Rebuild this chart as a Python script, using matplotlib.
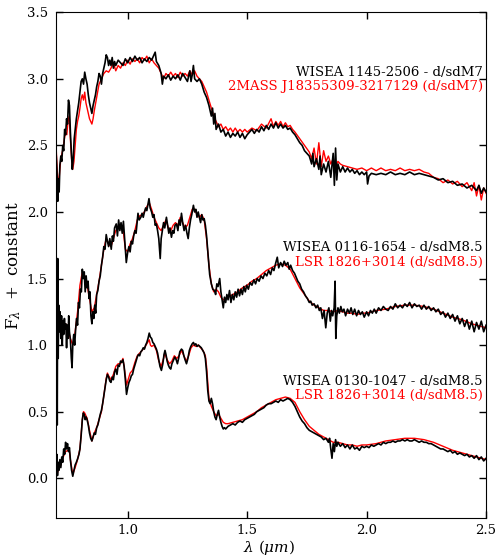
import numpy as np
import matplotlib
matplotlib.use("Agg")
import matplotlib.pyplot as plt

# Espectros (lambda en micras, flujo + constante)
wl_top_obj = [0.700, 0.704, 0.707, 0.710, 0.713, 0.716, 0.720, 0.724, 0.728, 0.732, 0.736, 0.740, 0.744, 0.748,
              0.752, 0.756, 0.760, 0.764, 0.768, 0.772, 0.776, 0.780, 0.785, 0.790, 0.795, 0.800, 0.805, 0.810,
              0.815, 0.820, 0.825, 0.830, 0.835, 0.840, 0.845, 0.850, 0.855, 0.860, 0.865, 0.870, 0.875, 0.880,
              0.885, 0.890, 0.895, 0.900, 0.905, 0.910, 0.915, 0.920, 0.925, 0.930, 0.935, 0.940, 0.945, 0.950,
              0.960, 0.970, 0.980, 0.990, 1.000, 1.010, 1.020, 1.030, 1.040, 1.050, 1.060, 1.070, 1.080, 1.090,
              1.100, 1.110, 1.115, 1.120, 1.130, 1.140, 1.145, 1.150, 1.160, 1.170, 1.180, 1.190, 1.200, 1.210,
              1.220, 1.230, 1.240, 1.250, 1.260, 1.265, 1.270, 1.275, 1.280, 1.290, 1.300, 1.310, 1.320, 1.330,
              1.340, 1.350, 1.355, 1.360, 1.365, 1.370, 1.380, 1.390, 1.400, 1.410, 1.420, 1.430, 1.440, 1.450,
              1.460, 1.470, 1.480, 1.490, 1.500, 1.510, 1.520, 1.530, 1.540, 1.550, 1.560, 1.570, 1.580, 1.590,
              1.600, 1.610, 1.620, 1.630, 1.640, 1.650, 1.660, 1.670, 1.680, 1.690, 1.700, 1.710, 1.720, 1.730,
              1.740, 1.750, 1.760, 1.770, 1.775, 1.780, 1.790, 1.800, 1.805, 1.810, 1.820, 1.830, 1.840, 1.850,
              1.860, 1.865, 1.870, 1.875, 1.880, 1.890, 1.900, 1.910, 1.920, 1.930, 1.940, 1.950, 1.960, 1.970,
              1.980, 1.990, 2.000, 2.004, 2.010, 2.020, 2.040, 2.060, 2.080, 2.100, 2.120, 2.140, 2.160, 2.180,
              2.200, 2.220, 2.240, 2.260, 2.280, 2.300, 2.320, 2.340, 2.360, 2.380, 2.400, 2.420, 2.440, 2.460,
              2.470, 2.480, 2.490, 2.500]
fl_top_obj = [2.45, 2.30, 2.08, 2.25, 2.15, 2.35, 2.42, 2.38, 2.50, 2.46, 2.62, 2.58, 2.70, 2.66,
              2.84, 2.80, 2.60, 2.45, 2.32, 2.40, 2.55, 2.62, 2.70, 2.76, 2.82, 2.90, 2.98, 3.00,
              2.96, 3.05, 3.00, 2.96, 2.88, 2.82, 2.78, 2.74, 2.80, 2.84, 2.88, 2.94, 2.98, 3.04,
              3.02, 2.96, 3.04, 3.08, 3.12, 3.18, 3.16, 3.10, 3.14, 3.10, 3.16, 3.08, 3.13, 3.10,
              3.14, 3.12, 3.10, 3.15, 3.12, 3.16, 3.13, 3.17, 3.14, 3.16, 3.12, 3.15, 3.13, 3.16,
              3.14, 3.18, 3.20, 3.13, 3.10, 3.04, 2.96, 3.02, 3.00, 3.03, 2.99, 3.02, 3.00, 3.03,
              2.99, 3.04, 3.01, 2.98, 3.06, 2.98, 3.03, 3.10, 3.00, 2.98, 3.00, 2.96, 2.90, 2.86,
              2.80, 2.72, 2.78, 2.66, 2.74, 2.62, 2.66, 2.60, 2.62, 2.57, 2.60, 2.56, 2.59, 2.57,
              2.60, 2.56, 2.59, 2.55, 2.58, 2.60, 2.62, 2.59, 2.62, 2.60, 2.64, 2.61, 2.65, 2.62,
              2.66, 2.63, 2.67, 2.63, 2.66, 2.63, 2.65, 2.62, 2.63, 2.60, 2.58, 2.55, 2.52, 2.50,
              2.46, 2.44, 2.42, 2.36, 2.44, 2.34, 2.40, 2.32, 2.42, 2.28, 2.36, 2.30, 2.38, 2.26,
              2.44, 2.20, 2.48, 2.24, 2.36, 2.30, 2.34, 2.30, 2.33, 2.30, 2.32, 2.29, 2.31, 2.28,
              2.30, 2.28, 2.30, 2.21, 2.27, 2.29, 2.28, 2.29, 2.28, 2.30, 2.28, 2.29, 2.28, 2.30,
              2.28, 2.29, 2.28, 2.27, 2.26, 2.24, 2.25, 2.22, 2.23, 2.20, 2.21, 2.18, 2.20, 2.16,
              2.20, 2.14, 2.18, 2.15]

wl_top_ref = [0.700, 0.705, 0.710, 0.715, 0.720, 0.725, 0.730, 0.735, 0.740, 0.745, 0.750, 0.755, 0.760, 0.765,
              0.770, 0.775, 0.780, 0.785, 0.790, 0.795, 0.800, 0.805, 0.810, 0.815, 0.820, 0.825, 0.830, 0.835,
              0.840, 0.845, 0.850, 0.855, 0.860, 0.870, 0.880, 0.890, 0.900, 0.910, 0.920, 0.930, 0.940, 0.950,
              0.960, 0.970, 0.980, 0.990, 1.000, 1.010, 1.020, 1.030, 1.040, 1.050, 1.060, 1.070, 1.080, 1.090,
              1.100, 1.110, 1.120, 1.130, 1.140, 1.150, 1.160, 1.170, 1.180, 1.190, 1.200, 1.210, 1.220, 1.230,
              1.240, 1.250, 1.260, 1.270, 1.280, 1.290, 1.300, 1.310, 1.320, 1.330, 1.340, 1.350, 1.360, 1.370,
              1.380, 1.390, 1.400, 1.410, 1.420, 1.430, 1.440, 1.450, 1.460, 1.470, 1.480, 1.490, 1.500, 1.520,
              1.540, 1.560, 1.580, 1.600, 1.610, 1.620, 1.630, 1.640, 1.650, 1.660, 1.670, 1.680, 1.690, 1.700,
              1.720, 1.740, 1.760, 1.770, 1.780, 1.790, 1.800, 1.810, 1.820, 1.830, 1.840, 1.850, 1.860, 1.870,
              1.880, 1.890, 1.900, 1.920, 1.940, 1.960, 1.980, 2.000, 2.020, 2.040, 2.060, 2.080, 2.100, 2.120,
              2.140, 2.160, 2.180, 2.200, 2.220, 2.240, 2.260, 2.280, 2.300, 2.320, 2.340, 2.360, 2.380, 2.400,
              2.420, 2.440, 2.450, 2.460, 2.470, 2.480, 2.490, 2.500]
fl_top_ref = [2.50, 2.30, 2.18, 2.30, 2.40, 2.44, 2.48, 2.55, 2.60, 2.58, 2.68, 2.72, 2.55, 2.40,
              2.32, 2.38, 2.50, 2.62, 2.68, 2.72, 2.78, 2.85, 2.88, 2.84, 2.90, 2.82, 2.78, 2.74,
              2.70, 2.68, 2.66, 2.70, 2.76, 2.86, 2.96, 3.00, 3.04, 3.06, 3.05, 3.08, 3.12, 3.06,
              3.10, 3.08, 3.12, 3.10, 3.14, 3.11, 3.15, 3.13, 3.15, 3.12, 3.16, 3.14, 3.17, 3.12,
              3.15, 3.12, 3.10, 3.08, 3.04, 3.00, 3.04, 3.02, 3.05, 3.02, 3.04, 3.01, 3.05, 3.02,
              3.04, 3.02, 3.06, 3.03, 3.06, 3.02, 3.00, 2.98, 2.94, 2.90, 2.84, 2.78, 2.72, 2.68,
              2.64, 2.66, 2.62, 2.64, 2.61, 2.63, 2.60, 2.63, 2.60, 2.62, 2.60, 2.62, 2.60, 2.63,
              2.61, 2.66, 2.63, 2.70, 2.64, 2.68, 2.65, 2.68, 2.64, 2.67, 2.64, 2.65, 2.62, 2.60,
              2.55, 2.50, 2.45, 2.40, 2.48, 2.36, 2.52, 2.34, 2.46, 2.38, 2.42, 2.36, 2.40, 2.34,
              2.38, 2.36, 2.35, 2.34, 2.33, 2.32, 2.33, 2.31, 2.33, 2.31, 2.33, 2.31, 2.32, 2.31,
              2.33, 2.31, 2.32, 2.31, 2.32, 2.30, 2.29, 2.26, 2.25, 2.22, 2.24, 2.21, 2.23, 2.19,
              2.22, 2.16, 2.22, 2.12, 2.20, 2.09, 2.18, 2.14]

wl_mid_obj = [0.700, 0.703, 0.705, 0.707, 0.709, 0.711, 0.714, 0.717, 0.720, 0.723, 0.726, 0.729, 0.732, 0.735,
              0.738, 0.741, 0.744, 0.747, 0.750, 0.753, 0.756, 0.760, 0.764, 0.767, 0.770, 0.774, 0.778, 0.782,
              0.786, 0.790, 0.794, 0.798, 0.802, 0.806, 0.810, 0.814, 0.818, 0.822, 0.826, 0.830, 0.834, 0.838,
              0.842, 0.846, 0.850, 0.854, 0.858, 0.862, 0.866, 0.870, 0.875, 0.880, 0.885, 0.890, 0.895, 0.900,
              0.905, 0.910, 0.915, 0.920, 0.925, 0.931, 0.936, 0.940, 0.945, 0.952, 0.957, 0.962, 0.967, 0.972,
              0.977, 0.982, 0.987, 0.994, 1.000, 1.005, 1.010, 1.015, 1.020, 1.025, 1.030, 1.035, 1.043, 1.048,
              1.055, 1.060, 1.065, 1.070, 1.075, 1.080, 1.085, 1.089, 1.094, 1.100, 1.105, 1.110, 1.115, 1.120,
              1.125, 1.130, 1.136, 1.140, 1.145, 1.150, 1.155, 1.162, 1.167, 1.172, 1.177, 1.183, 1.188, 1.193,
              1.198, 1.204, 1.210, 1.215, 1.220, 1.225, 1.230, 1.236, 1.242, 1.248, 1.253, 1.258, 1.263, 1.268,
              1.275, 1.280, 1.285, 1.290, 1.295, 1.300, 1.305, 1.310, 1.315, 1.320, 1.325, 1.330, 1.337, 1.343,
              1.350, 1.356, 1.363, 1.368, 1.373, 1.378, 1.385, 1.390, 1.395, 1.400, 1.405, 1.410, 1.415, 1.420,
              1.426, 1.432, 1.438, 1.444, 1.450, 1.456, 1.462, 1.468, 1.474, 1.480, 1.486, 1.492, 1.498, 1.505,
              1.512, 1.520, 1.528, 1.535, 1.542, 1.550, 1.558, 1.566, 1.574, 1.582, 1.590, 1.598, 1.605, 1.612,
              1.620, 1.626, 1.632, 1.640, 1.648, 1.655, 1.662, 1.670, 1.676, 1.682, 1.690, 1.698, 1.705, 1.712,
              1.720, 1.728, 1.736, 1.744, 1.752, 1.760, 1.766, 1.772, 1.780, 1.788, 1.795, 1.802, 1.808, 1.815,
              1.822, 1.829, 1.835, 1.842, 1.848, 1.853, 1.858, 1.864, 1.868, 1.871, 1.875, 1.880, 1.886, 1.892,
              1.898, 1.905, 1.912, 1.920, 1.928, 1.935, 1.942, 1.950, 1.958, 1.966, 1.974, 1.982, 1.990, 2.000,
              2.008, 2.016, 2.024, 2.032, 2.040, 2.050, 2.060, 2.070, 2.080, 2.090, 2.100, 2.110, 2.120, 2.130,
              2.140, 2.150, 2.160, 2.170, 2.180, 2.190, 2.200, 2.210, 2.220, 2.230, 2.240, 2.250, 2.260, 2.270,
              2.280, 2.290, 2.300, 2.310, 2.320, 2.330, 2.340, 2.350, 2.360, 2.370, 2.380, 2.390, 2.400, 2.410,
              2.420, 2.430, 2.440, 2.450, 2.460, 2.470, 2.480, 2.490, 2.500]
fl_mid_obj = [1.20, 1.55, 0.40, 1.65, 0.90, 1.30, 1.10, 1.25, 1.05, 1.22, 1.00, 1.18, 1.08, 1.20,
              1.12, 1.16, 0.98, 1.15, 1.05, 1.22, 1.10, 1.04, 0.90, 0.83, 1.00, 1.08, 1.00, 1.12,
              1.20, 1.15, 1.32, 1.28, 1.42, 1.40, 1.57, 1.50, 1.55, 1.40, 1.52, 1.43, 1.48, 1.35,
              1.40, 1.22, 1.16, 1.25, 1.20, 1.30, 1.24, 1.38, 1.41, 1.48, 1.52, 1.60, 1.66, 1.74,
              1.72, 1.83, 1.78, 1.74, 1.80, 1.72, 1.82, 1.78, 1.88, 1.91, 1.82, 1.94, 1.86, 1.92,
              1.84, 1.93, 1.80, 1.62, 1.70, 1.74, 1.70, 1.78, 1.76, 1.82, 1.86, 1.84, 1.99, 1.94,
              1.96, 1.99, 1.96, 2.00, 2.03, 2.01, 2.06, 2.10, 2.03, 2.00, 1.96, 1.98, 1.90, 1.91,
              1.86, 1.80, 1.65, 1.80, 1.86, 1.92, 1.88, 1.96, 1.90, 1.84, 1.88, 1.81, 1.86, 1.84,
              1.90, 1.91, 1.86, 1.94, 1.90, 1.99, 1.92, 1.86, 1.90, 1.84, 1.80, 1.88, 1.94, 1.98,
              2.05, 2.00, 2.02, 1.96, 2.00, 1.96, 1.92, 1.98, 1.94, 1.95, 1.90, 1.82, 1.66, 1.53,
              1.46, 1.42, 1.41, 1.38, 1.46, 1.44, 1.50, 1.40, 1.34, 1.28, 1.36, 1.32, 1.38, 1.34,
              1.41, 1.32, 1.38, 1.34, 1.40, 1.36, 1.42, 1.37, 1.42, 1.38, 1.44, 1.40, 1.45, 1.42,
              1.47, 1.45, 1.49, 1.46, 1.50, 1.48, 1.52, 1.50, 1.54, 1.52, 1.56, 1.53, 1.58, 1.56,
              1.62, 1.66, 1.58, 1.62, 1.59, 1.63, 1.60, 1.62, 1.57, 1.60, 1.56, 1.54, 1.51, 1.48,
              1.46, 1.42, 1.40, 1.37, 1.35, 1.32, 1.33, 1.30, 1.31, 1.28, 1.30, 1.26, 1.28, 1.20,
              1.26, 1.13, 1.24, 1.28, 1.18, 1.26, 1.22, 1.28, 1.48, 1.05, 1.22, 1.28, 1.24, 1.29,
              1.25, 1.27, 1.22, 1.27, 1.24, 1.28, 1.23, 1.27, 1.22, 1.26, 1.23, 1.25, 1.21, 1.25,
              1.22, 1.26, 1.24, 1.27, 1.24, 1.28, 1.26, 1.29, 1.27, 1.26, 1.29, 1.27, 1.31, 1.28,
              1.30, 1.28, 1.31, 1.29, 1.32, 1.28, 1.31, 1.29, 1.30, 1.27, 1.30, 1.27, 1.29, 1.26,
              1.28, 1.25, 1.27, 1.23, 1.25, 1.21, 1.24, 1.20, 1.23, 1.18, 1.22, 1.16, 1.20, 1.14,
              1.19, 1.12, 1.18, 1.10, 1.17, 1.12, 1.18, 1.10, 1.15]

wl_mid_ref = [0.700, 0.710, 0.720, 0.730, 0.740, 0.750, 0.760, 0.770, 0.780, 0.790, 0.800, 0.810, 0.820, 0.830,
              0.840, 0.850, 0.860, 0.870, 0.880, 0.890, 0.900, 0.910, 0.920, 0.930, 0.940, 0.950, 0.960, 0.970,
              0.980, 0.990, 1.000, 1.010, 1.020, 1.030, 1.040, 1.050, 1.060, 1.070, 1.080, 1.090, 1.100, 1.110,
              1.120, 1.130, 1.140, 1.150, 1.160, 1.170, 1.180, 1.190, 1.200, 1.210, 1.220, 1.230, 1.240, 1.250,
              1.260, 1.270, 1.280, 1.290, 1.300, 1.310, 1.320, 1.330, 1.340, 1.350, 1.360, 1.370, 1.380, 1.390,
              1.400, 1.420, 1.440, 1.460, 1.480, 1.500, 1.520, 1.540, 1.560, 1.580, 1.600, 1.620, 1.640, 1.660,
              1.680, 1.700, 1.720, 1.740, 1.760, 1.780, 1.800, 1.820, 1.840, 1.860, 1.880, 1.900, 1.920, 1.940,
              1.960, 1.980, 2.000, 2.040, 2.080, 2.120, 2.160, 2.200, 2.240, 2.280, 2.320, 2.360, 2.400, 2.440,
              2.480, 2.500]
fl_mid_ref = [1.20, 1.10, 1.15, 1.12, 1.16, 1.12, 1.05, 1.00, 1.10, 1.25, 1.45, 1.55, 1.52, 1.45,
              1.35, 1.25, 1.28, 1.38, 1.48, 1.60, 1.72, 1.80, 1.76, 1.74, 1.80, 1.86, 1.88, 1.90,
              1.88, 1.72, 1.70, 1.76, 1.80, 1.86, 1.94, 1.97, 1.98, 2.00, 2.04, 2.07, 2.02, 1.96,
              1.92, 1.88, 1.86, 1.90, 1.94, 1.88, 1.86, 1.90, 1.92, 1.90, 1.96, 1.92, 1.88, 1.90,
              1.96, 2.02, 2.02, 1.98, 1.96, 1.98, 1.94, 1.80, 1.60, 1.46, 1.40, 1.42, 1.40, 1.36,
              1.34, 1.36, 1.38, 1.40, 1.43, 1.45, 1.48, 1.50, 1.53, 1.56, 1.58, 1.60, 1.61, 1.60,
              1.57, 1.50, 1.43, 1.38, 1.33, 1.30, 1.28, 1.26, 1.26, 1.25, 1.26, 1.25, 1.24, 1.24,
              1.23, 1.24, 1.24, 1.26, 1.27, 1.29, 1.30, 1.30, 1.29, 1.27, 1.24, 1.21, 1.19, 1.16,
              1.14, 1.13]

wl_bot_obj = [0.700, 0.703, 0.706, 0.709, 0.712, 0.716, 0.720, 0.724, 0.728, 0.732, 0.736, 0.740, 0.744, 0.748,
              0.752, 0.756, 0.760, 0.765, 0.770, 0.775, 0.780, 0.785, 0.791, 0.796, 0.800, 0.805, 0.810, 0.814,
              0.818, 0.822, 0.826, 0.830, 0.835, 0.840, 0.845, 0.850, 0.855, 0.860, 0.865, 0.870, 0.875, 0.880,
              0.885, 0.890, 0.895, 0.900, 0.905, 0.910, 0.915, 0.920, 0.925, 0.930, 0.935, 0.940, 0.945, 0.950,
              0.955, 0.960, 0.965, 0.970, 0.975, 0.980, 0.985, 0.990, 0.995, 1.000, 1.005, 1.010, 1.015, 1.020,
              1.025, 1.030, 1.035, 1.040, 1.045, 1.050, 1.055, 1.060, 1.065, 1.070, 1.075, 1.080, 1.085, 1.090,
              1.095, 1.100, 1.105, 1.110, 1.115, 1.120, 1.125, 1.130, 1.135, 1.141, 1.147, 1.152, 1.156, 1.160,
              1.165, 1.170, 1.175, 1.180, 1.185, 1.190, 1.197, 1.203, 1.208, 1.213, 1.218, 1.225, 1.230, 1.235,
              1.240, 1.246, 1.252, 1.258, 1.264, 1.270, 1.275, 1.280, 1.285, 1.290, 1.296, 1.302, 1.308, 1.314,
              1.320, 1.325, 1.330, 1.335, 1.340, 1.345, 1.350, 1.355, 1.360, 1.365, 1.370, 1.375, 1.380, 1.385,
              1.390, 1.395, 1.400, 1.405, 1.410, 1.415, 1.420, 1.430, 1.440, 1.450, 1.460, 1.470, 1.480, 1.490,
              1.500, 1.510, 1.520, 1.530, 1.540, 1.550, 1.560, 1.570, 1.580, 1.590, 1.600, 1.610, 1.620, 1.630,
              1.640, 1.650, 1.660, 1.670, 1.680, 1.690, 1.700, 1.710, 1.720, 1.730, 1.740, 1.750, 1.760, 1.770,
              1.780, 1.790, 1.800, 1.810, 1.820, 1.830, 1.840, 1.845, 1.850, 1.855, 1.860, 1.865, 1.870, 1.875,
              1.880, 1.890, 1.900, 1.910, 1.920, 1.930, 1.940, 1.950, 1.960, 1.970, 1.980, 1.990, 2.000, 2.010,
              2.020, 2.030, 2.040, 2.050, 2.060, 2.070, 2.080, 2.090, 2.100, 2.110, 2.120, 2.130, 2.140, 2.150,
              2.160, 2.170, 2.180, 2.190, 2.200, 2.210, 2.220, 2.230, 2.240, 2.250, 2.260, 2.270, 2.280, 2.290,
              2.300, 2.310, 2.320, 2.330, 2.340, 2.350, 2.360, 2.370, 2.380, 2.390, 2.400, 2.410, 2.420, 2.430,
              2.440, 2.450, 2.460, 2.470, 2.480, 2.490, 2.500]
fl_bot_obj = [0.05, 0.18, 0.02, 0.12, 0.06, 0.14, 0.08, 0.16, 0.12, 0.22, 0.18, 0.27, 0.22, 0.26,
              0.20, 0.23, 0.14, 0.06, 0.015, 0.06, 0.10, 0.12, 0.15, 0.18, 0.22, 0.32, 0.44, 0.49,
              0.48, 0.44, 0.46, 0.44, 0.40, 0.34, 0.30, 0.28, 0.31, 0.34, 0.33, 0.38, 0.40, 0.44,
              0.48, 0.51, 0.56, 0.62, 0.68, 0.74, 0.78, 0.76, 0.73, 0.72, 0.76, 0.74, 0.80, 0.82,
              0.78, 0.85, 0.84, 0.88, 0.87, 0.89, 0.84, 0.74, 0.63, 0.68, 0.72, 0.74, 0.77, 0.78,
              0.82, 0.85, 0.88, 0.91, 0.93, 0.92, 0.95, 0.96, 0.98, 0.97, 1.00, 1.02, 1.05, 1.09,
              1.06, 1.05, 1.02, 1.01, 0.99, 0.97, 0.94, 0.89, 0.84, 0.81, 0.86, 0.93, 0.96, 0.93,
              0.88, 0.85, 0.83, 0.82, 0.86, 0.88, 0.91, 0.89, 0.86, 0.90, 0.95, 0.97, 0.96, 0.92,
              0.89, 0.86, 0.90, 0.96, 0.99, 1.01, 1.02, 1.00, 1.01, 0.99, 1.00, 0.99, 0.98, 0.96,
              0.94, 0.90, 0.80, 0.66, 0.58, 0.56, 0.60, 0.56, 0.50, 0.46, 0.44, 0.48, 0.51, 0.46,
              0.42, 0.39, 0.37, 0.38, 0.37, 0.38, 0.39, 0.40, 0.41, 0.40, 0.42, 0.43, 0.42, 0.44,
              0.45, 0.46, 0.47, 0.48, 0.50, 0.51, 0.52, 0.53, 0.55, 0.56, 0.56, 0.57, 0.58, 0.57,
              0.59, 0.58, 0.59, 0.60, 0.59, 0.57, 0.54, 0.50, 0.46, 0.43, 0.41, 0.38, 0.36, 0.35,
              0.34, 0.33, 0.32, 0.31, 0.29, 0.30, 0.27, 0.30, 0.22, 0.15, 0.26, 0.20, 0.29, 0.24,
              0.27, 0.24, 0.26, 0.23, 0.25, 0.22, 0.25, 0.22, 0.23, 0.21, 0.24, 0.23, 0.24, 0.23,
              0.25, 0.24, 0.25, 0.26, 0.25, 0.27, 0.26, 0.27, 0.27, 0.28, 0.27, 0.28, 0.28, 0.29,
              0.28, 0.29, 0.28, 0.28, 0.29, 0.28, 0.27, 0.28, 0.27, 0.27, 0.26, 0.26, 0.25, 0.24,
              0.23, 0.22, 0.22, 0.21, 0.20, 0.21, 0.19, 0.20, 0.18, 0.19, 0.18, 0.17, 0.18, 0.16,
              0.17, 0.15, 0.17, 0.14, 0.16, 0.13, 0.15]

wl_bot_ref = [0.700, 0.710, 0.720, 0.730, 0.740, 0.750, 0.756, 0.760, 0.770, 0.780, 0.790, 0.800, 0.810, 0.815,
              0.820, 0.830, 0.840, 0.850, 0.860, 0.870, 0.880, 0.890, 0.900, 0.910, 0.915, 0.920, 0.930, 0.940,
              0.950, 0.960, 0.970, 0.980, 0.990, 0.995, 1.000, 1.010, 1.020, 1.030, 1.040, 1.050, 1.060, 1.070,
              1.080, 1.090, 1.095, 1.100, 1.110, 1.120, 1.130, 1.140, 1.150, 1.155, 1.165, 1.175, 1.185, 1.195,
              1.205, 1.215, 1.225, 1.235, 1.245, 1.255, 1.265, 1.275, 1.285, 1.295, 1.305, 1.315, 1.325, 1.330,
              1.335, 1.340, 1.350, 1.360, 1.370, 1.380, 1.390, 1.400, 1.410, 1.420, 1.440, 1.460, 1.480, 1.500,
              1.520, 1.540, 1.560, 1.580, 1.600, 1.620, 1.640, 1.660, 1.680, 1.700, 1.720, 1.740, 1.760, 1.780,
              1.800, 1.820, 1.840, 1.860, 1.880, 1.900, 1.920, 1.940, 1.960, 1.980, 2.000, 2.040, 2.080, 2.120,
              2.160, 2.200, 2.240, 2.280, 2.320, 2.360, 2.400, 2.440, 2.480, 2.500]
fl_bot_ref = [0.02, 0.06, 0.10, 0.16, 0.20, 0.21, 0.20, 0.14, 0.03, 0.08, 0.14, 0.22, 0.44, 0.50,
              0.49, 0.45, 0.36, 0.28, 0.34, 0.38, 0.44, 0.50, 0.62, 0.75, 0.79, 0.77, 0.74, 0.78,
              0.84, 0.86, 0.86, 0.90, 0.77, 0.70, 0.73, 0.79, 0.81, 0.87, 0.92, 0.94, 0.96, 0.98,
              1.01, 1.04, 1.00, 0.99, 1.00, 0.96, 0.88, 0.84, 0.90, 0.94, 0.89, 0.86, 0.88, 0.92,
              0.90, 0.92, 0.96, 0.92, 0.88, 0.92, 0.98, 1.00, 0.99, 1.00, 0.98, 0.96, 0.92, 0.84,
              0.72, 0.60, 0.54, 0.50, 0.47, 0.48, 0.45, 0.42, 0.41, 0.41, 0.42, 0.43, 0.44, 0.46,
              0.48, 0.50, 0.53, 0.55, 0.57, 0.59, 0.60, 0.61, 0.60, 0.57, 0.50, 0.44, 0.39, 0.36,
              0.33, 0.31, 0.29, 0.27, 0.27, 0.26, 0.25, 0.25, 0.24, 0.25, 0.25, 0.26, 0.28, 0.29,
              0.30, 0.30, 0.29, 0.27, 0.24, 0.21, 0.19, 0.17, 0.15, 0.14]

# Etiquetas de cada par de espectros
obj_names = ["WISEA 1145-2506 - d/sdM7", "WISEA 0116-1654 - d/sdM8.5", "WISEA 0130-1047 - d/sdM8.5"]
ref_names = ["2MASS J18355309-3217129 (d/sdM7)", "LSR 1826+3014 (d/sdM8.5)", "LSR 1826+3014 (d/sdM8.5)"]
label_y = [3.05, 1.73, 0.73]

plt.rcParams["font.family"] = "DejaVu Serif"
plt.rcParams["mathtext.fontset"] = "dejavuserif"
plt.rcParams["xtick.direction"] = "in"
plt.rcParams["ytick.direction"] = "in"
plt.rcParams["xtick.top"] = True
plt.rcParams["ytick.right"] = True

fig = plt.figure(figsize=(4.96, 5.56), dpi=100)
ax = fig.add_axes([0.113, 0.068, 0.867, 0.910])

pares = [(wl_top_ref, fl_top_ref, wl_top_obj, fl_top_obj),
         (wl_mid_ref, fl_mid_ref, wl_mid_obj, fl_mid_obj),
         (wl_bot_ref, fl_bot_ref, wl_bot_obj, fl_bot_obj)]
for wr, fr, wo, fo in pares:
    ax.plot(wr, fr, "-", color="red", lw=1.0)
    ax.plot(wo, fo, "-", color="black", lw=1.2)

for nb, nr, yy in zip(obj_names, ref_names, label_y):
    ax.text(2.485, yy, nb, color="black", fontsize=9.5, ha="right", va="center")
    ax.text(2.488, yy - 0.11, nr, color="red", fontsize=9.5, ha="right", va="center")

ax.set_xlim(0.7, 2.5)
ax.set_ylim(-0.3, 3.5)
ax.set_xticks(np.arange(1.0, 2.6, 0.5))
ax.set_yticks(np.arange(0.0, 3.6, 0.5))
ax.tick_params(length=5, width=1, labelsize=9.5)
ax.tick_params(axis="x", pad=4)
ax.tick_params(axis="y", pad=6)
ax.set_xlabel(r"$\lambda$ ($\mu m$)", fontsize=11)
ax.set_ylabel(r"F$_\lambda$  +  constant", fontsize=12)
ax.xaxis.set_label_coords(0.495, -0.04)
ax.yaxis.set_label_coords(-0.077, 0.5)

fig.savefig("out.png", dpi=100)
